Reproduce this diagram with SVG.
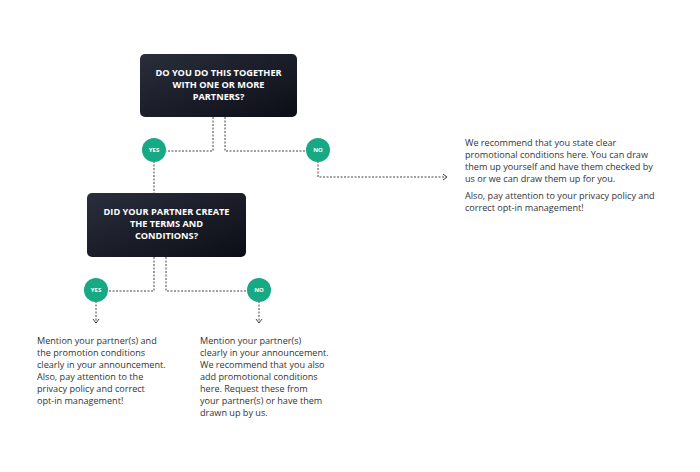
<svg xmlns="http://www.w3.org/2000/svg" width="700" height="472" viewBox="0 0 700 472">
<defs>
<linearGradient id="bg" x1="0" y1="0" x2="1" y2="1">
<stop offset="0" stop-color="#2a2e3c"/>
<stop offset="1" stop-color="#0c0e16"/>
</linearGradient>
<marker id="chev" markerWidth="8" markerHeight="8" refX="6" refY="4" orient="auto" markerUnits="userSpaceOnUse">
<path d="M2,1 L6,4 L2,7" fill="none" stroke="#444" stroke-width="1"/>
</marker>
</defs>
<style>
.box{fill:url(#bg);}
.bt{font-family:"Open Sans","Noto Sans",sans-serif;font-weight:bold;font-size:9.2px;fill:#fff;text-anchor:middle;}
.c{fill:#17a884;}
.ct{font-family:"Open Sans","Noto Sans",sans-serif;font-weight:bold;font-size:6px;fill:#fff;text-anchor:middle;}
.ln{fill:none;stroke:#444;stroke-width:1;stroke-dasharray:2 1.5;}
.tx{font-family:"Open Sans","Noto Sans",sans-serif;font-size:9.1px;fill:#333;}
</style>
<rect width="700" height="472" fill="#fff"/>
<g id="connectors">
<path class="ln" d="M213,117 V151 H166"/>
<path class="ln" d="M225,117 V151 H306"/>
<path class="ln" d="M154,161 V193"/>
<path class="ln" d="M318,161 V177 H447" marker-end="url(#chev)"/>
<path class="ln" d="M154,257 V291 H108"/>
<path class="ln" d="M166,257 V291 H247"/>
<path class="ln" d="M96,301 V323" marker-end="url(#chev)"/>
<path class="ln" d="M259,301 V323" marker-end="url(#chev)"/>
</g>
<g id="q1">
<rect class="box" x="140" y="54" width="157" height="63" rx="5"/>
<text class="bt" x="218.5" y="75.5">DO YOU DO THIS TOGETHER</text>
<text class="bt" x="218.5" y="87.5">WITH ONE OR MORE</text>
<text class="bt" x="218.5" y="99.5">PARTNERS?</text>
</g>
<g id="yes1"><circle class="c" cx="154" cy="150" r="12"/><text class="ct" x="154" y="152">YES</text></g>
<g id="no1"><circle class="c" cx="318" cy="150" r="12"/><text class="ct" x="318" y="152">NO</text></g>
<g id="q2">
<rect class="box" x="87" y="193" width="159" height="64" rx="5"/>
<text class="bt" x="166.5" y="215">DID YOUR PARTNER CREATE</text>
<text class="bt" x="166.5" y="227">THE TERMS AND</text>
<text class="bt" x="166.5" y="239">CONDITIONS?</text>
</g>
<g id="yes2"><circle class="c" cx="96" cy="290" r="12"/><text class="ct" x="96" y="292">YES</text></g>
<g id="no2"><circle class="c" cx="259" cy="290" r="12"/><text class="ct" x="259" y="292">NO</text></g>
<g id="r1">
<text class="tx" x="465" y="146">We recommend that you state clear</text>
<text class="tx" x="465" y="158">promotional conditions here. You can draw</text>
<text class="tx" x="465" y="170">them up yourself and have them checked by</text>
<text class="tx" x="465" y="182">us or we can draw them up for you.</text>
<text class="tx" x="465" y="199">Also, pay attention to your privacy policy and</text>
<text class="tx" x="465" y="211">correct opt-in management!</text>
</g>
<g id="r2">
<text class="tx" x="37" y="344">Mention your partner(s) and</text>
<text class="tx" x="37" y="356">the promotion conditions</text>
<text class="tx" x="37" y="368">clearly in your announcement.</text>
<text class="tx" x="37" y="380">Also, pay attention to the</text>
<text class="tx" x="37" y="392">privacy policy and correct</text>
<text class="tx" x="37" y="404">opt-in management!</text>
</g>
<g id="r3">
<text class="tx" x="200" y="344">Mention your partner(s)</text>
<text class="tx" x="200" y="356">clearly in your announcement.</text>
<text class="tx" x="200" y="368">We recommend that you also</text>
<text class="tx" x="200" y="380">add promotional conditions</text>
<text class="tx" x="200" y="392">here. Request these from</text>
<text class="tx" x="200" y="404">your partner(s) or have them</text>
<text class="tx" x="200" y="416">drawn up by us.</text>
</g>
</svg>
